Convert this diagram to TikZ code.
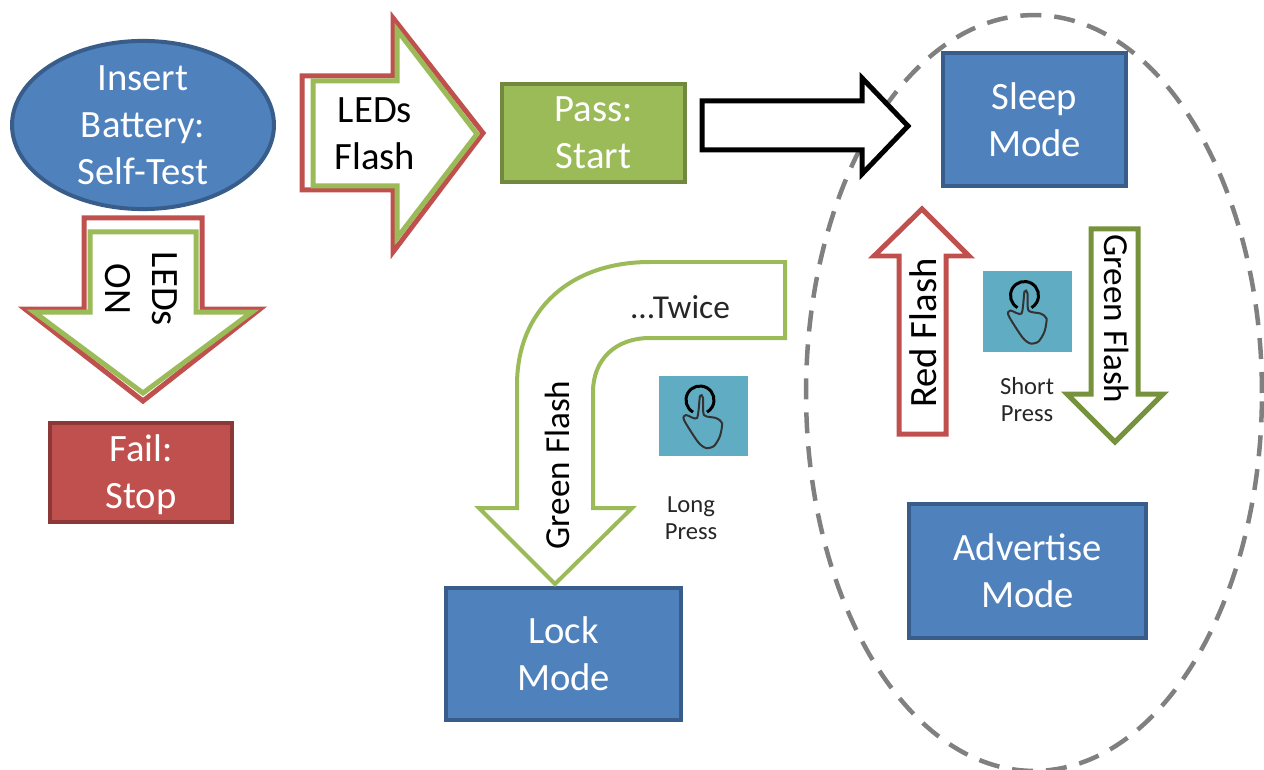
\documentclass[tikz,border=0pt]{standalone}
\usepackage{fontspec}
\setmainfont{Carlito}
\usetikzlibrary{shapes.geometric}
\definecolor{modeColor}{HTML}{4F81BD}
\definecolor{modeEdge}{HTML}{385D8A}
\definecolor{passColor}{HTML}{9BBB59}
\definecolor{passEdge}{HTML}{71893F}
\definecolor{failColor}{HTML}{C0504D}
\definecolor{failEdge}{HTML}{8C3836}
\definecolor{flashGreen}{HTML}{76923C}
\definecolor{iconColor}{HTML}{60ADC3}
\tikzset{
	bigtext/.style={font=\fontsize{22}{26.7}\selectfont,align=center},
	midtext/.style={font=\fontsize{20}{24}\selectfont,align=center},
	smalltext/.style={font=\fontsize{14}{15.4}\selectfont,align=center,text=black!85},
	block/.style={draw=#1,line width=0.08cm,bigtext,text=white,inner sep=0},
	outline/.style={draw=#1,line width=0.1cm,fill=white,line join=miter},
	icon/.style={fill=iconColor,minimum width=1.78cm,minimum height=1.62cm,inner sep=0},
	pics/taphand/.style={code={
		\draw[black,line width=0.06cm] (-3,-16) ++(120:14) arc [start angle=120,end angle=420,radius=14];
		\draw[black!80,line width=0.04cm] plot[smooth cycle,tension=0.45] coordinates {(-3,-20) (-6,2) (-17,-1) (-19,4) (-5,26) (3,32) (11,30) (17,20) (19,7) (13,2) (1,-1) (0,-18)};
	}}
}
\begin{document}
\begin{tikzpicture}[x=0.02cm,y=-0.02cm]
	\useasboundingbox (0,0) rectangle (1264,770);
	% group of modes
	\node[ellipse,draw=black!50,line width=0.09cm,dash pattern=on 0.42cm off 0.26cm,minimum width=9.12cm,minimum height=15.12cm,inner sep=0] (group) at (1034,393) {};
	% start
	\node[ellipse,block=modeEdge,fill=modeColor,minimum width=5.24cm,minimum height=3.16cm] (battery) at (143,125) {Insert\\Battery:\\Self-Test};
	\draw[outline=failColor] (302,76) -- (393,76) -- (393,18) -- (483,133) -- (393,252) -- (393,190) -- (302,190) -- cycle;
	\draw[outline=passColor,fill=none] (313,81) -- (397,81) -- (397,30) -- (477,134) -- (397,238) -- (397,186) -- (313,186) -- cycle;
	\node[bigtext] (flashtext) at (375,134) {LEDs\\Flash};
	\draw[outline=failColor] (84,218) -- (202,218) -- (202,309) -- (260,309) -- (143,401) -- (25,309) -- (84,309) -- cycle;
	\draw[outline=passColor,fill=none] (90,232) -- (196,232) -- (196,312) -- (252,312) -- (143,393) -- (34,312) -- (90,312) -- cycle;
	\node[bigtext,rotate=-90] (ontext) at (141,289) {LEDs\\ON};
	\node[block=passEdge,fill=passColor,minimum width=3.66cm,minimum height=1.96cm] (pass) at (593.5,133) {Pass:\\Start};
	\node[block=failEdge,fill=failColor,minimum width=3.64cm,minimum height=1.98cm] (fail) at (141,472.5) {};
	\node[bigtext,text=white] (failtext) at (141,475) {Fail:\\Stop};
	\draw[draw=black,line width=0.1cm,line join=miter,fill=white] (702,101) -- (862,101) -- (862,78) -- (908,126) -- (862,174) -- (862,150) -- (702,150) -- cycle;
	% modes
	\node[block=modeEdge,fill=modeColor,minimum width=3.66cm,minimum height=2.66cm] (sleep) at (1034.5,119.5) {Sleep\\Mode};
	\node[block=modeEdge,fill=modeColor,minimum width=4.74cm,minimum height=2.68cm] (advertise) at (1027.5,571) {Advertise\\Mode};
	\node[block=modeEdge,fill=modeColor,minimum width=4.7cm,minimum height=2.66cm] (lock) at (563.5,654) {Lock\\Mode};
	% short press
	\draw[outline=failColor] (922,209) -- (969,256) -- (946,256) -- (946,434) -- (899,434) -- (899,256) -- (874,256) -- cycle;
	\node[bigtext,rotate=90] (redtext) at (923,333) {Red Flash};
	\draw[outline=flashGreen] (1091,229) -- (1138,229) -- (1138,394) -- (1163,394) -- (1115,442) -- (1067,394) -- (1091,394) -- cycle;
	\node[midtext,rotate=-90] (greentext) at (1117,319) {Green Flash};
	\node[icon] (shorticon) at (1027.5,311.5) {};
	\pic at (shorticon) {taphand};
	\node[smalltext] (shorttext) at (1027,400) {Short\\Press};
	% long press
	\draw[draw=passColor,line width=0.08cm,line join=miter,fill=white] (785,262) -- (650,262) .. controls (570,262) and (517,310) .. (517,385) -- (517,508) -- (479,508) -- (555,584) -- (632,508) -- (593,508) -- (593,392) .. controls (593,360) and (615,338) .. (650,338) -- (785,338) -- cycle;
	\node[midtext,rotate=90] (locktext) at (557,465) {Green Flash};
	\node[font=\fontsize{19}{22}\selectfont,text=black!85] (twicetext) at (680,307) {...Twice};
	\node[icon] (longicon) at (703,416) {};
	\pic at (longicon) {taphand};
	\node[smalltext] (longtext) at (691,518) {Long\\Press};
\end{tikzpicture}
\end{document}
